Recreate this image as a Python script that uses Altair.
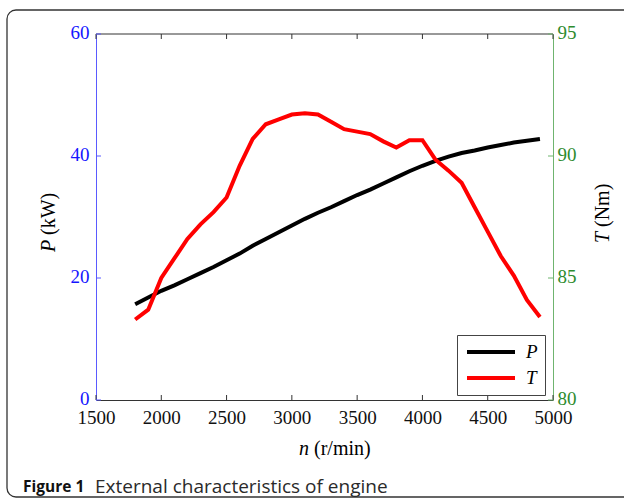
import altair as alt
import pandas as pd

# ---------------- data ----------------
rpm = [1800, 1900, 2000, 2100, 2200, 2300, 2400, 2500, 2600, 2700, 2800, 2900,
       3000, 3100, 3200, 3300, 3400, 3500, 3600, 3700, 3800, 3900, 4000, 4100,
       4200, 4300, 4400, 4500, 4600, 4700, 4800, 4900]
power = [15.7, 16.8, 17.9, 18.8, 19.8, 20.8, 21.8, 22.9, 24.0, 25.3, 26.4, 27.5,
         28.6, 29.7, 30.7, 31.6, 32.6, 33.6, 34.5, 35.5, 36.5, 37.5, 38.4, 39.2,
         39.9, 40.5, 40.9, 41.4, 41.8, 42.2, 42.5, 42.8]
torque = [83.3, 83.7, 85.0, 85.8, 86.6, 87.2, 87.7, 88.3, 89.6, 90.7, 91.3, 91.5,
          91.7, 91.75, 91.7, 91.4, 91.1, 91.0, 90.9, 90.6, 90.35, 90.65, 90.65, 89.85,
          89.4, 88.9, 87.9, 86.9, 85.9, 85.1, 84.1, 83.4]
x_ticks = [1500, 2000, 2500, 3000, 3500, 4000, 4500, 5000]
p_ticks = [0, 20, 40, 60]
t_ticks = [80, 85, 90, 95]
series_names = ["P", "T"]
series_colors = ["#000000", "#ff0000"]
x_title = ["n", "(r/min)"]
p_title = ["P", "(kW)"]
t_title = ["T", "(Nm)"]
caption = ["Figure 1", "External characteristics of engine"]

W, H = 457, 366
X_DOMAIN = [1500, 5000]
P_DOMAIN = [0, 60]
T_DOMAIN = [80, 95]
SERIF = "Liberation Serif"
BLUE_LINE, BLUE_TEXT = "#5a5aff", "#1515ff"
GREEN_LINE, GREEN_TEXT = "#6fb46f", "#2e8b2e"

xs = alt.Scale(domain=X_DOMAIN, nice=False, zero=False)
ps = alt.Scale(domain=P_DOMAIN, nice=False)
ts = alt.Scale(domain=T_DOMAIN, nice=False, zero=False)
x_axis = alt.Axis(values=x_ticks, orient="bottom", title=None, format="d",
                  domainColor="#333333", labelColor="#111111", labelFlush=False,
                  labelPadding=8, ticks=False, labelFont=SERIF, labelFontSize=19)
X = alt.X("rpm:Q", scale=xs, axis=x_axis)
color = alt.Color("series:N",
                  scale=alt.Scale(domain=series_names, range=series_colors),
                  legend=alt.Legend(title=None))

p_df = pd.DataFrame({"rpm": rpm, "value": power, "series": "P"})
t_df = pd.DataFrame({"rpm": rpm, "value": torque, "series": "T"})

p_line = alt.Chart(p_df).mark_line(strokeWidth=4).encode(
    x=X,
    y=alt.Y("value:Q", scale=ps,
            axis=alt.Axis(values=p_ticks, orient="left", title=None,
                          domainColor=BLUE_LINE, labelColor=BLUE_TEXT, ticks=False,
                          labelPadding=7, labelFlush=False, labelOffset=-2,
                          labelFont=SERIF, labelFontSize=19)),
    color=color,
)

t_line = alt.Chart(t_df).mark_line(strokeWidth=4).encode(
    x=X,
    y=alt.Y("value:Q", scale=ts,
            axis=alt.Axis(values=t_ticks, orient="right", title=None,
                          domainColor=GREEN_LINE, labelColor=GREEN_TEXT, ticks=False,
                          labelPadding=4, labelFlush=False, labelOffset=-2,
                          labelFont=SERIF, labelFontSize=19)),
    color=color,
)

xt_df = pd.DataFrame({"rpm": x_ticks})
bottom_ticks = alt.Chart(xt_df).mark_rule(color="#333333", strokeWidth=1).encode(
    x=X, y=alt.value(H), y2=alt.value(H - 5))
top_ticks = alt.Chart(xt_df).mark_rule(color="#333333", strokeWidth=1).encode(
    x=X, y=alt.value(0), y2=alt.value(5))
top_line = alt.Chart(pd.DataFrame({"k": [0]})).mark_rule(color="#333333", strokeWidth=1).encode(
    x=alt.value(0), x2=alt.value(W), y=alt.value(0))

left_ticks = alt.Chart(pd.DataFrame({"value": p_ticks})).mark_rule(color=BLUE_LINE).encode(
    y=alt.Y("value:Q", scale=ps, axis=None), x=alt.value(0), x2=alt.value(5))
right_ticks = alt.Chart(pd.DataFrame({"value": t_ticks})).mark_rule(color=GREEN_LINE).encode(
    y=alt.Y("value:Q", scale=ts, axis=None), x=alt.value(W), x2=alt.value(W - 5))


def txt(s, x, y, **kw):
    return alt.Chart(pd.DataFrame({"t": [s]})).mark_text(**kw).encode(
        text="t:N", x=alt.value(x), y=alt.value(y))


titles = [
    txt(x_title[0], 203, 415, font=SERIF, fontSize=20, fontStyle="italic", align="left"),
    txt(x_title[1], 218, 415, font=SERIF, fontSize=20, align="left"),
    txt(p_title[0], -47, 218, font=SERIF, fontSize=20, fontStyle="italic", align="left", angle=270),
    txt(p_title[1], -47, 201, font=SERIF, fontSize=20, align="left", angle=270),
    txt(t_title[0], 507, 209, font=SERIF, fontSize=20, fontStyle="italic", align="left", angle=270),
    txt(t_title[1], 507, 193, font=SERIF, fontSize=20, align="left", angle=270),
    txt(caption[0], -73, 453, font="Open Sans", fontSize=15.5, fontWeight="bold", align="left", color="#111111"),
    txt(caption[1], -1, 453, font="Open Sans", fontSize=19, align="left", color="#2a2a2a"),
]

frame = alt.Chart(pd.DataFrame({"k": [0]})).mark_rect(
    fill="white", fillOpacity=0, stroke="#333333", strokeWidth=1.3, cornerRadius=9
).encode(x=alt.value(-89), x2=alt.value(640), y=alt.value(-24), y2=alt.value(463))

chart = alt.layer(
    frame, p_line, t_line, bottom_ticks, top_ticks, top_line, left_ticks, right_ticks, *titles
).resolve_scale(y="independent").properties(
    width=W, height=H,
    autosize=alt.AutoSizeParams(type="none"),
    padding={"left": 96, "top": 34, "right": 71, "bottom": 100},
).configure_view(stroke=None).configure_axis(grid=False).configure_legend(
    orient="none", legendX=361, legendY=301,
    strokeColor="#444444", fillColor="white", padding=7,
    symbolType="M-3,0H3", symbolSize=256, symbolStrokeWidth=4, symbolOffset=17,
    labelFont=SERIF, labelFontStyle="italic", labelFontSize=19,
    rowPadding=6, labelOffset=25,
)

chart.save("out.html", embed_options={"renderer": "svg", "actions": False})
